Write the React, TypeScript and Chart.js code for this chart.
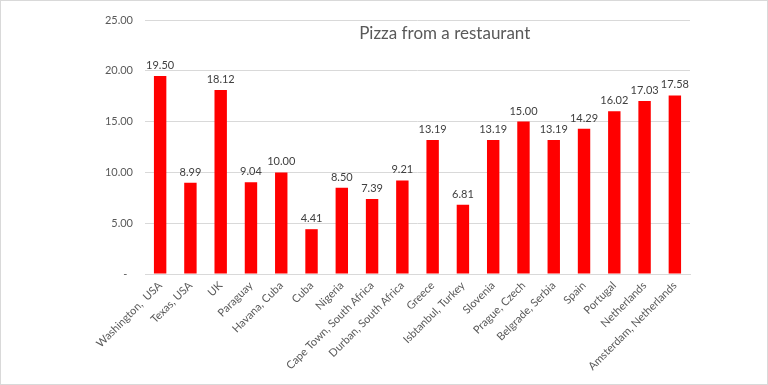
import React, { useEffect, useRef } from "react";
import { Chart, registerables } from "chart.js";

Chart.register(...registerables);

const categories = [
  "Washington,  USA",
  "Texas, USA",
  "UK",
  "Paraguay",
  "Havana, Cuba",
  "Cuba",
  "Nigeria",
  "Cape Town, South Africa",
  "Durban, South Africa",
  "Greece",
  "Isbtanbul, Turkey",
  "Slovenia",
  "Prague, Czech",
  "Belgrade, Serbia",
  "Spain",
  "Portugal",
  "Netherlands",
  "Amsterdam, Netherlands",
];

const prices = [19.5, 8.99, 18.12, 9.04, 10.0, 4.41, 8.5, 7.39, 9.21, 13.19, 6.81, 13.19, 15.0, 13.19, 14.29, 16.02, 17.03, 17.58];

const yTicks = [0, 5, 10, 15, 20, 25];

const titleText = "Pizza from a restaurant";

const FONT = "Lato, 'Open Sans', sans-serif";

const labelsPlugin = {
  id: "valueLabels",
  afterDatasetsDraw(chart: any) {
    const ctx = chart.ctx;
    const meta = chart.getDatasetMeta(0);
    ctx.save();
    ctx.font = `11px ${FONT}`;
    ctx.fillStyle = "#404040";
    ctx.textAlign = "center";
    ctx.textBaseline = "bottom";
    meta.data.forEach((bar: any, i: number) => {
      ctx.fillText(prices[i].toFixed(2), bar.x, bar.y - 5);
    });
    ctx.restore();
  },
};

const frameTitlePlugin = {
  id: "frameTitle",
  afterDraw(chart: any) {
    const ctx = chart.ctx;
    ctx.save();
    ctx.strokeStyle = "#d9d9d9";
    ctx.lineWidth = 1;
    ctx.strokeRect(0.5, 0.5, chart.width - 1, chart.height - 1);
    ctx.font = `17px ${FONT}`;
    ctx.fillStyle = "#595959";
    ctx.textAlign = "center";
    ctx.textBaseline = "middle";
    const area = chart.chartArea;
    ctx.fillText(titleText, area.left + (area.right - area.left) * 0.55, area.top + 14);
    ctx.restore();
  },
};

const bgPlugin = {
  id: "bg",
  beforeDraw(chart: any) {
    const ctx = chart.ctx;
    ctx.save();
    ctx.fillStyle = "#ffffff";
    ctx.fillRect(0, 0, chart.width, chart.height);
    ctx.restore();
  },
};

export default function App() {
  const ref = useRef<HTMLCanvasElement | null>(null);
  useEffect(() => {
    document.body.style.margin = "0";
    if (!ref.current) return;
    const chart = new Chart(ref.current, {
      type: "bar",
      data: {
        labels: categories,
        datasets: [
          {
            data: prices,
            backgroundColor: "#ff0000",
            borderWidth: 0,
            barPercentage: 0.41,
            categoryPercentage: 1,
          },
        ],
      },
      options: {
        animation: false,
        responsive: false,
        devicePixelRatio: 1,
        layout: { padding: { left: 0, right: 78, top: 20, bottom: 0 } },
        plugins: {
          legend: { display: false },
          tooltip: { enabled: false },
          title: { display: false },
        },
        scales: {
          x: {
            grid: { display: false, drawTicks: false },
            border: { display: true, color: "#d9d9d9" },
            afterFit(scale: any) {
              scale.height = 111;
            },
            ticks: {
              minRotation: 45,
              maxRotation: 45,
              autoSkip: false,
              padding: 5,
              color: "#595959",
              font: { family: FONT, size: 11 },
            },
          },
          y: {
            min: 0,
            max: 25,
            afterFit(scale: any) {
              scale.width = 145;
            },
            afterBuildTicks(scale: any) {
              scale.ticks = yTicks.map((v) => ({ value: v }));
            },
            grid: { color: "#d9d9d9", drawTicks: false },
            border: { display: false },
            ticks: {
              padding: 12,
              color: "#595959",
              font: { family: FONT, size: 11 },
              callback: (v: any) => (Number(v) === 0 ? "-  " : Number(v).toFixed(2)),
            },
          },
        },
      },
      plugins: [bgPlugin, labelsPlugin, frameTitlePlugin],
    });
    return () => chart.destroy();
  }, []);
  return (
    <div style={{ width: 768, height: 385 }}>
      <canvas ref={ref} width={768} height={385} style={{ display: "block" }} />
    </div>
  );
}
